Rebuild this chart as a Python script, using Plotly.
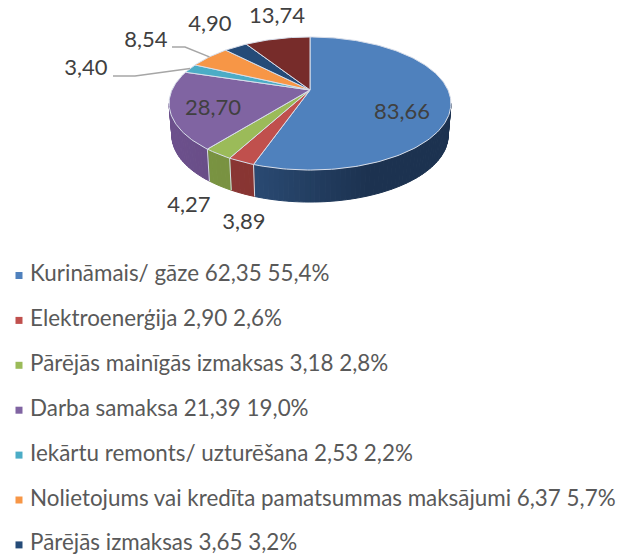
import math
import plotly.graph_objects as go

# ---- data ----
slice_names = ["Kurināmais/ gāze", "Elektroenerģija", "Pārējās mainīgās izmaksas", "Darba samaksa",
               "Iekārtu remonts/ uzturēšana", "Nolietojums vai kredīta pamatsummas maksājumi",
               "Pārējās izmaksas", "Cits"]
slice_values = [83.66, 3.89, 4.27, 28.70, 3.40, 8.54, 4.90, 13.74]
slice_labels = ["83,66", "3,89", "4,27", "28,70", "3,40", "8,54", "4,90", "13,74"]
legend_amounts = ["62,35", "2,90", "3,18", "21,39", "2,53", "6,37", "3,65"]
legend_shares = ["55,4%", "2,6%", "2,8%", "19,0%", "2,2%", "5,7%", "3,2%"]

# ---- styles and layout ----
top_colors = ["#4f81bd", "#c0504d", "#9bbb59", "#8064a2", "#4bacc6", "#f79646", "#254b78", "#772c2a"]
wall_left = [(52, 92, 140), (140, 55, 52), (122, 148, 66), (108, 80, 140)]
wall_right = [(28, 50, 80), (130, 50, 48), (118, 142, 62), (92, 68, 118)]
CX, CY = 310, 90
A, B = 138, 63.8
K = 0.203
DEPTH, BOTTOM_SCALE = 32, 0.98
TEXT = "#404040"
FONT = "Lato, Carlito, Calibri, sans-serif"
label_xy = [(402, 113), (244, 223), (189, 206), (213, 109), (86, 69), (146, 41), (210, 25), (277, 17)]
leaders = [(4, [(113, 76), (135, 76)]), (5, [(172, 47), (185, 47)])]
LEGEND_X, LEGEND_Y0, LEGEND_DY = 19, 275.5, 44.9


def project(theta):
    u, v = math.sin(theta), math.cos(theta)
    w = 1 + K * v
    return CX + A * u / w, CY - B * v / w


def lower(p):
    return CX + (p[0] - CX) * BOTTOM_SCALE, p[1] + DEPTH


total = sum(slice_values)
edges = [0.0]
for val in slice_values:
    edges.append(edges[-1] + val / total * 2 * math.pi)

fig = go.Figure()


def poly(xs, ys, fill, line=None, width=1.0):
    fig.add_trace(go.Scatter(x=xs, y=ys, mode="lines", fill="toself", fillcolor=fill,
                             line=dict(color=line or fill, width=width),
                             hoverinfo="skip", showlegend=False))


# side wall, only the front of the rim is visible
front_a = math.acos(-K)
front_b = 2 * math.pi - front_a
for i in range(len(slice_values)):
    a0, a1 = max(edges[i], front_a), min(edges[i + 1], front_b)
    if a1 <= a0:
        continue
    n = max(2, int((a1 - a0) / 0.03))
    for j in range(n):
        t0, t1 = a0 + (a1 - a0) * j / n, a0 + (a1 - a0) * (j + 1) / n
        p0, p1 = project(t0), project(t1)
        q0, q1 = lower(p0), lower(p1)
        f = min(1.0, max(0.0, (370 - p0[0]) / 200))
        c = [round(wall_right[i][k] + (wall_left[i][k] - wall_right[i][k]) * f) for k in range(3)]
        col = f"rgb({c[0]},{c[1]},{c[2]})"
        poly([p0[0], p1[0], q1[0], q0[0], p0[0]], [p0[1], p1[1], q1[1], q0[1], p0[1]], col)

# wall separators between slices
for e in edges[1:4]:
    p = project(e)
    q = lower(p)
    fig.add_trace(go.Scatter(x=[p[0], q[0]], y=[p[1], q[1]], mode="lines",
                             line=dict(color="#d5dbe3", width=1), hoverinfo="skip", showlegend=False))

# top face
for i in range(len(slice_values)):
    n = max(3, int((edges[i + 1] - edges[i]) / 0.02))
    pts = [project(edges[i] + (edges[i + 1] - edges[i]) * j / n) for j in range(n + 1)]
    xs = [CX] + [p[0] for p in pts] + [CX]
    ys = [CY] + [p[1] for p in pts] + [CY]
    poly(xs, ys, top_colors[i], "#d8deea", 1)

# leader lines
for idx, path in leaders:
    end = project((edges[idx] + edges[idx + 1]) / 2)
    fig.add_trace(go.Scatter(x=[p[0] for p in path] + [end[0]], y=[p[1] for p in path] + [end[1]],
                             mode="lines", line=dict(color="#a6a6a6", width=1.5),
                             hoverinfo="skip", showlegend=False))

# data labels
fig.add_trace(go.Scatter(x=[p[0] for p in label_xy], y=[p[1] for p in label_xy], mode="text",
                         text=slice_labels, textposition="middle center",
                         textfont=dict(family=FONT, size=22, color=TEXT),
                         hoverinfo="skip", showlegend=False))

# legend
legend_text = [f"{n} {a} {s}" for n, a, s in zip(slice_names, legend_amounts, legend_shares)]
for i in range(len(legend_text)):
    fig.add_trace(go.Scatter(x=[LEGEND_X], y=[LEGEND_Y0 + i * LEGEND_DY], mode="markers+text",
                             marker=dict(symbol="square", size=7, color=top_colors[i]),
                             text=[" " + legend_text[i]], textposition="middle right",
                             textfont=dict(family=FONT, size=22.4, color="#595959"),
                             hoverinfo="skip", showlegend=False))

fig.update_layout(width=620, height=556, margin=dict(l=0, r=0, t=0, b=0),
                  paper_bgcolor="white", plot_bgcolor="white", showlegend=False,
                  xaxis=dict(range=[0, 620], visible=False, fixedrange=True),
                  yaxis=dict(range=[556, 0], visible=False, fixedrange=True))
fig.write_html("out.html", config={"displayModeBar": False},
               post_script="document.body.style.margin='0';")
